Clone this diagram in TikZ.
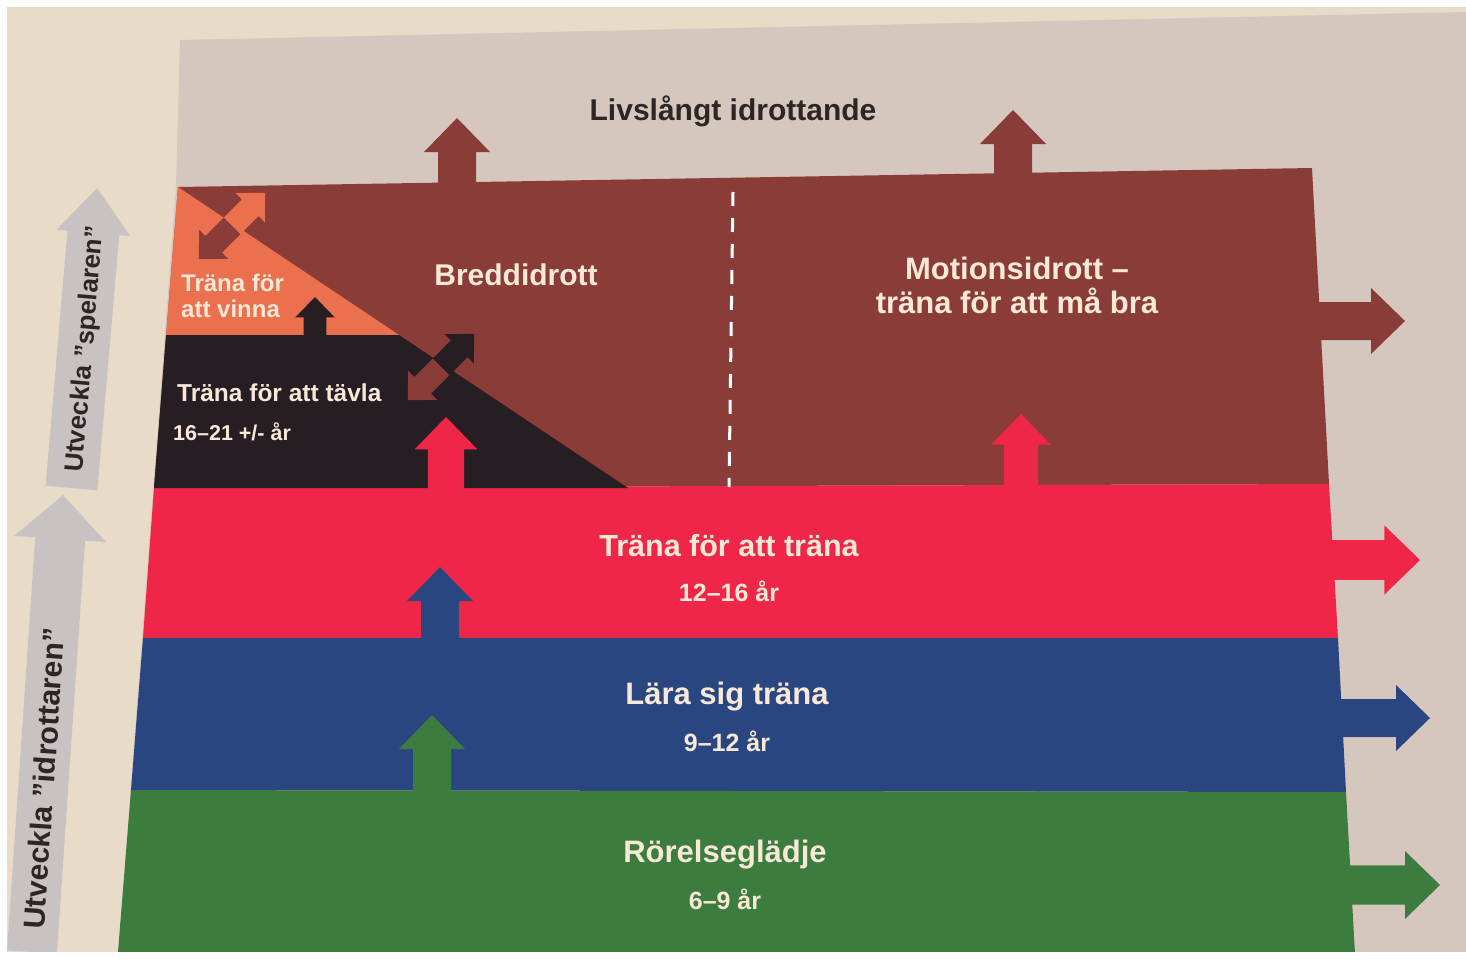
\documentclass[tikz,border=0pt]{standalone}
\usepackage{fontspec}
\setmainfont{Liberation Sans}
\usetikzlibrary{positioning}

\definecolor{bakgrund}{RGB}{232,220,200}
\definecolor{panel}{RGB}{213,199,189}
\definecolor{brun}{RGB}{138,60,56}
\definecolor{orangefarg}{RGB}{235,112,78}
\definecolor{svart}{RGB}{38,30,34}
\definecolor{rod}{RGB}{240,38,72}
\definecolor{bla}{RGB}{42,70,128}
\definecolor{gron}{RGB}{60,124,62}
\definecolor{gra}{RGB}{200,194,194}
\definecolor{ljus}{RGB}{248,232,215}
\definecolor{mork}{RGB}{45,38,38}

% arrow: colour, foot, angle, length, size
\newcommand{\pil}[5]{%
  \begin{scope}[shift={(#2)},rotate=#3]
    \fill[#1] (0,-19*#5) -- (#4-34*#5,-19*#5) -- (#4-34*#5,-33*#5) -- (#4,0)
      -- (#4-34*#5,33*#5) -- (#4-34*#5,19*#5) -- (0,19*#5) -- cycle;
  \end{scope}}

\begin{document}
\begin{tikzpicture}[x=1pt,y=-1pt]
\tikzset{txt/.style={text=ljus,inner sep=0pt,text depth=0pt},
stor/.style={txt,font=\bfseries\fontsize{#1}{34}\selectfont},
stor/.default=30,
liten/.style={txt,font=\bfseries\fontsize{#1}{26}\selectfont},
liten/.default=24,
sida/.style={text=mork,inner sep=0pt,text depth=0pt,font=\bfseries\fontsize{#1}{#1}\selectfont},
streck/.style={draw=white,line width=3pt,dash pattern=on 14pt off 12pt},
}
\useasboundingbox (0,0) rectangle (1466,958);
\fill[white] (0,0) rectangle (1466,958);
\fill[bakgrund] (7,7) rectangle (1466,952);
\fill[panel] (180,40) -- (1466,12) -- (1466,958) -- (118,958) -- (176,187) -- cycle;

% side arrows
\begin{scope}[shift={(32,952)},rotate=86.1]
  \fill[gra] (0,-25) -- (414,-25) -- (414,-46) -- (458,0) -- (414,46) -- (414,25) -- (0,25) -- cycle;
  \node[sida=30,transform shape] (idrott) at (174,0) {Utveckla ”idrottaren”};
\end{scope}
\begin{scope}[shift={(71.5,488)},rotate=85.1]
  \fill[gra] (0,-26) -- (256,-26) -- (256,-37) -- (301,0) -- (256,37) -- (256,26) -- (0,26) -- cycle;
  \node[sida=26,transform shape] (spelare) at (140,0) {Utveckla ”spelaren”};
\end{scope}

% arrows behind the bands
\pil{brun}{457,200}{90}{82}{1}
\pil{brun}{1013,185}{90}{75}{1}
\pil{brun}{1300,321}{0}{105}{1}
\pil{rod}{1310,560}{0}{110}{1.05}
\pil{bla}{1320,718}{0}{110}{1}
\pil{gron}{1330,885}{0}{110}{1.03}

% bands
\fill[brun] (178,187) -- (1312,168) -- (1329,484) -- (154,488) -- cycle;
\fill[rod] (154,488) -- (1329,484) -- (1338,638) -- (143,638) -- cycle;
\fill[bla] (143,638) -- (1338,638) -- (1346,792) -- (131,790) -- cycle;
\fill[gron] (131,790) -- (1346,792) -- (1355,954) -- (118,952) -- cycle;
\fill[orangefarg] (178,187) -- (399,335) -- (166,335) -- cycle;
\fill[svart] (166,335) -- (399,335) -- (628,488) -- (154,488) -- cycle;

% arrows between the levels
\pil{svart}{315,337}{90}{40}{0.6}
\pil{orangefarg}{232,226}{45}{47}{0.62}
\pil{brun}{232,226}{225}{47}{0.62}
\pil{svart}{441,367}{45}{47}{0.62}
\pil{brun}{441,367}{225}{47}{0.62}
\pil{rod}{446,492}{90}{75}{0.95}
\pil{rod}{1021,490}{90}{76}{0.9}
\pil{bla}{440,642}{90}{75}{1}
\pil{gron}{432,794}{90}{79}{1}

\draw[streck] (733,192) -- (729,487);

\node[stor,text=mork] (livs) at (733,108) {Livslångt idrottande};
\node[stor] (bredd) at (516,275) {Breddidrott};
\node[stor=31,align=center] (motion) at (1017,285) {Motionsidrott –\\träna för att må bra};
\node[liten,align=left,anchor=west] (vinna) at (181,296) {Träna för\\att vinna};
\node[liten=24.5,anchor=west] (tavla) at (177,393) {Träna för att tävla};
\node[liten=21.5,anchor=west] (tavlaar) at (173,432) {16–21 +/- år};
\node[stor=30.5] (trana) at (729,545) {Träna för att träna};
\node[liten=25,below of=trana,node distance=46pt] (tranaar) {12–16 år};
\node[stor=31] (lara) at (727,693) {Lära sig träna};
\node[liten=25,below of=lara,node distance=48pt] (laraar) {9–12 år};
\node[stor=31] (rorelse) at (725,851) {Rörelseglädje};
\node[liten=25,below of=rorelse,node distance=48pt] (rorelsear) {6–9 år};

\fill[white] (0,952) rectangle (1466,958);
\end{tikzpicture}
\end{document}
